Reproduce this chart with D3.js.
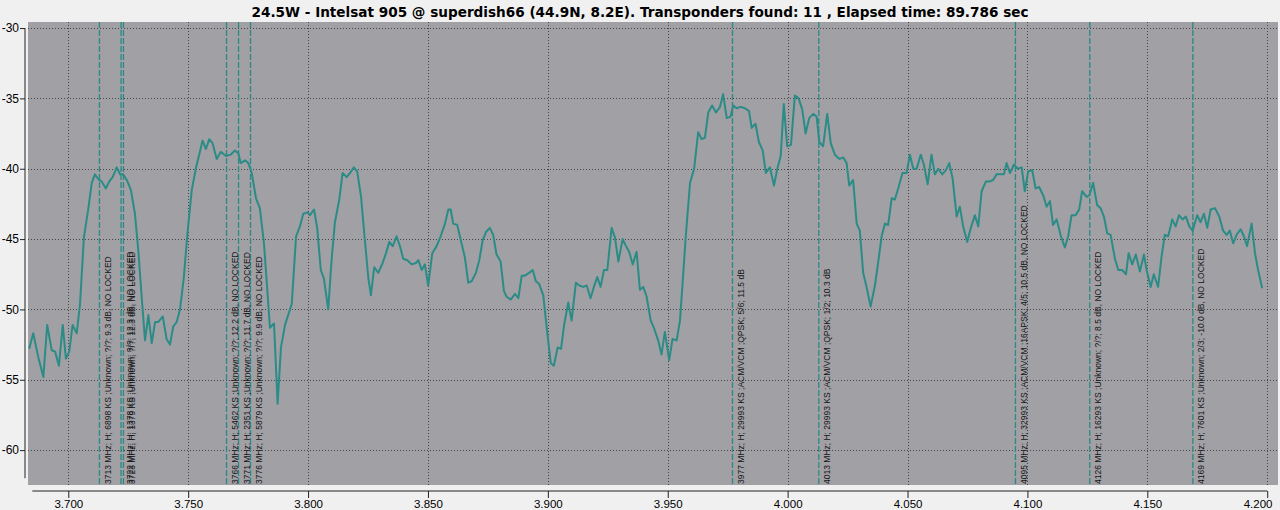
<!DOCTYPE html>
<html><head><meta charset="utf-8">
<script src="https://cdn.jsdelivr.net/npm/d3@7"></script>
<style>
html,body{margin:0;padding:0;background:#f0f0f0;}
svg{display:block;}
</style>
</head><body>
<svg id="chart" width="1280" height="510"></svg>
<script>
const titleText = "24.5W - Intelsat 905 @ superdish66 (44.9N, 8.2E). Transponders found: 11 , Elapsed time: 89.786 sec";

const freqMHz = [
3683.7,3685.4,3687.5,3689.6,3691.2,3693.1,3694.5,3696.1,3697.7,3699.0,
3700.4,3701.8,3703.5,3704.9,3706.5,3708.3,3709.8,3711.1,3712.8,3713.9,
3715.7,3717.1,3718.5,3720.2,3721.6,3722.9,3724.4,3726.1,3727.8,3729.2,
3730.6,3732.0,3733.4,3734.8,3736.2,3737.5,3739.4,3741.0,3742.4,3743.8,
3745.2,3746.6,3748.2,3749.8,3751.5,3753.3,3754.9,
3756.0,3757.4,3758.8,3760.2,3761.9,3763.6,3765.8,3767.7,3769.5,3770.9,
3771.9,3773.7,3775.1,3776.5,3778.3,3779.9,3781.6,3782.7,3784.1,3785.8,
3787.3,3788.7,3790.4,3793.2,3795.0,3796.6,3798.0,3799.7,3800.8,3802.5,
3803.8,3805.3,3806.6,3808.4,3809.8,3811.2,3813.0,3814.4,3816.1,3817.5,
3819.1,3820.5,3822.1,3823.7,3825.1,3826.2,3827.6,3829.3,3831.1,3832.5,
3833.9,3835.3,3836.9,3838.3,3839.7,3841.4,3843.2,3845.0,3846.0,3847.4,
3848.7,3850.1,3851.8,3853.6,3855.3,3857.1,3858.5,3859.5,3860.5,3862.2,
3864.0,3865.4,3866.8,3868.2,3870.0,3871.4,3872.8,3874.2,3875.8,3877.2,
3878.6,3880.3,3881.7,3882.8,3884.5,3886.3,3887.7,3889.1,3890.4,3892.2,
3893.7,3895.0,3896.4,3898.1,3899.2,3900.2,3901.2,3902.5,3904.1,3905.5,
3906.8,3908.5,3909.9,3911.7,3913.1,3914.8,3916.2,3917.8,3919.2,3920.6,
3922.0,3923.4,3924.8,3926.6,3928.0,3929.4,3931.2,3932.6,3933.9,3935.4,
3937.0,3938.4,3939.8,3941.2,3942.9,3944.2,3946.0,3947.4,3948.8,3950.6,
3952.0,3953.7,3955.1,3956.2,3957.6,3959.3,3961.0,3962.7,3964.1,3965.5,
3966.9,3968.5,3970.1,3971.8,3973.1,3974.6,3976.2,3977.3,3978.7,3980.4,
3982.2,3983.9,3985.0,3986.6,3988.0,3989.6,3990.9,3992.6,3994.3,3995.7,
3997.1,3998.4,3999.8,4001.4,4003.0,4004.6,4006.1,4007.5,4009.0,4010.7,
4012.1,4013.2,4014.8,4016.5,4018.0,4019.7,4021.5,4023.2,4024.6,4025.7,
4027.3,4028.8,4030.1,4031.5,4032.9,4034.6,4036.4,4037.8,4039.2,4040.6,
4041.9,4043.4,4044.7,4046.1,4047.9,4049.6,4051.0,4052.4,4053.8,4055.5,
4056.8,4058.4,4060.0,4061.4,4062.8,4064.5,4066.0,4067.4,4068.8,4070.5,
4071.8,4073.2,4074.9,4076.4,4078.1,4079.5,4080.9,4082.7,4084.3,4085.7,
4087.1,4088.8,4090.2,4091.3,4092.7,4094.4,4095.9,4097.6,4098.9,4100.3,
4102.0,4103.4,4104.9,4106.6,4108.0,4109.4,4110.7,4112.2,4113.8,4115.6,
4117.0,4118.4,4120.1,4121.6,4122.8,4124.7,4125.8,4127.4,4129.1,4130.5,
4131.9,4133.3,4134.7,4136.5,4137.9,4139.5,4141.1,4142.2,4143.7,4145.2,
4146.9,4148.6,4149.7,4151.4,4152.7,4154.5,4155.9,4157.3,4158.7,4160.4,
4161.8,4163.2,4164.7,4166.1,4167.5,4168.9,4170.8,4172.2,4173.6,4175.0,
4176.4,4178.2,4180.0,4181.6,4183.1,4184.4,4185.8,4187.2,4188.9,4190.3,
4191.6,4193.5,4194.9,4196.2,4197.9
];

const levelDb = [
-52.8,-51.7,-53.4,-54.8,-51.1,-52.9,-53.0,-54.0,-51.1,-53.5,
-53.0,-51.1,-51.7,-49.6,-44.9,-42.9,-41.0,-40.4,-40.8,-40.9,
-41.4,-40.9,-40.6,-39.9,-40.4,-40.4,-40.8,-41.5,-43.2,-45.8,
-49.1,-52.2,-50.4,-52.4,-50.9,-50.9,-50.5,-52.1,-52.5,-51.2,
-50.9,-50.0,-47.7,-44.4,-41.5,-39.9,-38.8,
-38.0,-38.6,-37.9,-38.2,-39.3,-38.8,-39.1,-39.0,-38.7,-38.9,
-39.6,-39.4,-39.6,-40.3,-42.1,-42.8,-45.3,-47.9,-51.3,-51.0,
-56.7,-52.7,-51.1,-49.6,-44.8,-44.1,-43.2,-43.1,-43.3,-42.9,
-44.2,-47.2,-47.8,-50.0,-46.5,-43.8,-42.2,-40.3,-40.6,-40.3,
-39.9,-40.2,-42.0,-45.1,-47.7,-49.0,-47.0,-47.4,-46.7,-46.0,
-45.2,-45.5,-44.8,-45.5,-46.4,-46.5,-46.8,-46.7,-46.5,-47.2,
-46.8,-48.3,-46.0,-45.5,-44.8,-43.9,-42.9,-42.9,-43.9,-44.0,
-45.3,-46.3,-48.1,-48.0,-47.4,-46.5,-45.1,-44.5,-44.2,-44.7,
-46.1,-46.6,-48.7,-49.1,-49.3,-48.9,-49.2,-47.6,-47.6,-47.4,
-47.2,-48.0,-48.2,-49.0,-50.8,-52.3,-53.8,-54.0,-52.7,-52.8,
-51.1,-49.5,-50.8,-48.1,-48.3,-48.4,-48.3,-49.2,-48.4,-47.7,
-48.4,-47.2,-47.2,-44.2,-44.9,-46.6,-45.0,-45.5,-45.9,-46.8,
-45.9,-48.6,-48.4,-49.1,-50.8,-51.3,-52.2,-53.2,-51.6,-53.6,
-52.1,-52.2,-50.8,-48.1,-44.6,-41.0,-40.0,-37.4,-37.9,-37.8,
-36.0,-35.5,-36.0,-35.6,-34.7,-36.4,-36.3,-35.5,-35.7,-35.6,
-35.7,-35.9,-37.1,-36.8,-38.1,-38.7,-40.3,-39.9,-41.2,-40.0,
-39.1,-35.4,-38.4,-38.3,-34.8,-35.0,-35.8,-37.5,-36.4,-36.1,
-36.3,-38.1,-38.4,-36.1,-38.2,-39.0,-39.3,-39.2,-39.6,-41.2,
-40.8,-43.9,-44.4,-47.4,-48.4,-49.8,-48.3,-46.6,-44.8,-43.9,
-44.0,-42.1,-42.2,-41.4,-40.3,-40.3,-39.0,-40.0,-40.0,-39.0,
-39.7,-41.1,-39.0,-40.4,-40.0,-40.4,-40.1,-39.6,-40.7,-43.4,
-42.7,-44.1,-45.2,-44.2,-43.3,-44.1,-41.6,-40.9,-40.9,-40.8,
-40.4,-40.4,-40.4,-39.6,-40.3,-39.7,-40.0,-39.9,-41.6,-40.2,
-40.1,-41.4,-41.3,-41.9,-42.7,-42.3,-44.0,-43.6,-44.7,-45.6,
-44.8,-43.3,-43.3,-42.9,-41.6,-42.0,-41.9,-41.0,-42.6,-42.8,
-43.4,-44.6,-44.7,-46.4,-47.2,-47.2,-47.5,-46.0,-46.8,-46.1,
-47.3,-46.1,-47.2,-48.4,-47.5,-48.4,-46.3,-44.7,-44.8,-43.6,
-44.1,-43.3,-43.6,-43.4,-44.1,-44.4,-43.3,-43.8,-43.2,-44.2,
-42.9,-42.8,-43.4,-44.4,-44.7,-44.4,-45.3,-44.7,-44.3,-44.8,
-45.5,-43.9,-46.0,-47.2,-48.5
];

const tpFreqMHz = [3713, 3722, 3723, 3766, 3771, 3776, 3977, 4013, 4095, 4126, 4169];
const tpLabels = [
  "3713 MHz; H; 6898 KS ;Unknown; ?/?; 9.3 dB, NO LOCKED",
  "3722 MHz; H; 1378 KS ;Unknown; ?/?; 12.3 dB, NO LOCKED",
  "3723 MHz; H; 1379 KS ;Unknown; ?/?; 12.3 dB, NO LOCKED",
  "3766 MHz; H; 5462 KS ;Unknown; ?/?; 12.2 dB, NO LOCKED",
  "3771 MHz; H; 2351 KS ;Unknown; ?/?; 11.7 dB, NO LOCKED",
  "3776 MHz; H; 5879 KS ;Unknown; ?/?; 9.9 dB, NO LOCKED",
  "3977 MHz; H; 29993 KS ;ACM/VCM ;QPSK; 5/6; 11.5 dB",
  "4013 MHz; H; 29993 KS ;ACM/VCM ;QPSK; 1/2; 10.3 dB",
  "4095 MHz; H; 32993 KS ;ACM/VCM ;16APSK; 4/5; 10.5 dB, NO LOCKED",
  "4126 MHz; H; 16293 KS ;Unknown; ?/?; 8.5 dB, NO LOCKED",
  "4169 MHz; H; 7601 KS ;Unknown; 2/3; -10.0 dB, NO LOCKED"
];

const xMajorTicks = [3700, 3750, 3800, 3850, 3900, 3950, 4000, 4050, 4100, 4150, 4200];
const xTickLabels = ["3.700", "3.750", "3.800", "3.850", "3.900", "3.950", "4.000", "4.050", "4.100", "4.150", "4.200"];
const yMajorTicks = [-30, -35, -40, -45, -50, -55, -60];
const yTickLabels = ["-30", "-35", "-40", "-45", "-50", "-55", "-60"];

// ---- layout ----
const P = {left: 28, right: 1278, top: 22, bottom: 485};
const COL_BG = "#a1a0a5";
const COL_LINE = "#2b8c87";
const COL_TP = "#2a8a86";
const FONT = "'Liberation Sans', Arial, sans-serif";
const TITLE_FONT = "'DejaVu Sans', Verdana, sans-serif";

const svg = d3.select("#chart");
const x = d3.scaleLinear().domain([3683.2, 4204.5]).range([P.left, P.right]);
const y = d3.scaleLinear().domain([-29.57, -62.48]).range([P.top, P.bottom]);

svg.append("rect").attr("width", 1280).attr("height", 510).attr("fill", "#f0f0f0");
svg.append("rect").attr("x", P.left).attr("y", P.top)
  .attr("width", P.right - P.left).attr("height", P.bottom - P.top).attr("fill", COL_BG);

svg.append("defs").append("clipPath").attr("id", "clip")
  .append("rect").attr("x", P.left).attr("y", P.top)
  .attr("width", P.right - P.left).attr("height", P.bottom - P.top);

// grid
const grid = svg.append("g").attr("stroke", "#454545").attr("stroke-width", 1)
  .attr("stroke-dasharray", "1,2").attr("shape-rendering", "crispEdges");
grid.selectAll("line.v").data(xMajorTicks).join("line")
  .attr("x1", d => Math.round(x(d)) + 0.5).attr("x2", d => Math.round(x(d)) + 0.5)
  .attr("y1", P.top).attr("y2", P.bottom);
grid.selectAll("line.h").data(yMajorTicks).join("line")
  .attr("y1", d => Math.round(y(d)) + 0.5).attr("y2", d => Math.round(y(d)) + 0.5)
  .attr("x1", P.left).attr("x2", P.right);

// transponder markers
const tp = svg.append("g");
tp.selectAll("line").data(tpFreqMHz).join("line")
  .attr("x1", d => x(d)).attr("x2", d => x(d))
  .attr("y1", P.top).attr("y2", P.bottom)
  .attr("stroke", COL_TP).attr("stroke-width", 1.3).attr("stroke-dasharray", "6,2");

// spectrum line
const pts = freqMHz.map((f, i) => [f, levelDb[i]]);
svg.append("path").datum(pts)
  .attr("clip-path", "url(#clip)")
  .attr("fill", "none").attr("stroke", COL_LINE).attr("stroke-width", 2)
  .attr("stroke-linejoin", "round")
  .attr("d", d3.line().x(d => x(d[0])).y(d => y(d[1])));

// transponder labels
tp.selectAll("text").data(tpFreqMHz).join("text")
  .attr("transform", d => `translate(${x(d) + 11.5},${P.bottom - 1}) rotate(-90)`)
  .attr("font-family", FONT).attr("font-size", "8.5px").attr("fill", "#151515")
  .text((d, i) => tpLabels[i]);

// x axis
const xAxisY = 491;
const xMinor = d3.range(3685, 4200.1, 5);
const gx = svg.append("g").attr("transform", `translate(0,${xAxisY})`);
gx.call(d3.axisBottom(x).tickValues(xMinor).tickSize(4).tickFormat(""));
gx.call(d3.axisBottom(x).tickValues(xMajorTicks).tickSize(7).tickPadding(3)
  .tickFormat(d => xTickLabels[xMajorTicks.indexOf(d)]));
gx.selectAll(".domain").remove();
gx.append("line").attr("x1", x(3685)).attr("x2", x(4200)).attr("stroke", "#000");
gx.selectAll("line").attr("stroke", "#222");
gx.selectAll("text").attr("font-family", FONT).attr("font-size", "11.5px").attr("fill", "#000")
  .attr("y", 16.5).attr("dy", 0);
// keep the last label inside the window, as the original widget does
gx.selectAll(".tick text").filter(d => d === 4200)
  .attr("text-anchor", "end").attr("x", 1272 - x(4200));

// y axis
const yAxisX = 25;
const yMinor = d3.range(-30, -62.1, -1);
const gy = svg.append("g").attr("transform", `translate(${yAxisX},0)`);
gy.call(d3.axisLeft(y).tickValues(yMinor).tickSize(3).tickFormat(""));
gy.call(d3.axisLeft(y).tickValues(yMajorTicks).tickSize(5).tickPadding(1)
  .tickFormat(d => yTickLabels[yMajorTicks.indexOf(d)]));
gy.selectAll(".domain").remove();
gy.append("line").attr("y1", y(-30)).attr("y2", y(-62)).attr("stroke", "#000");
gy.selectAll("line").attr("stroke", "#222");
gy.selectAll("text").attr("font-family", FONT).attr("font-size", "12px").attr("fill", "#000");

// title
svg.append("text").attr("x", 640).attr("y", 17).attr("text-anchor", "middle")
  .attr("font-family", TITLE_FONT).attr("font-weight", "bold").attr("font-size", "13.6px")
  .attr("fill", "#000").text(titleText);
</script>
</body></html>
